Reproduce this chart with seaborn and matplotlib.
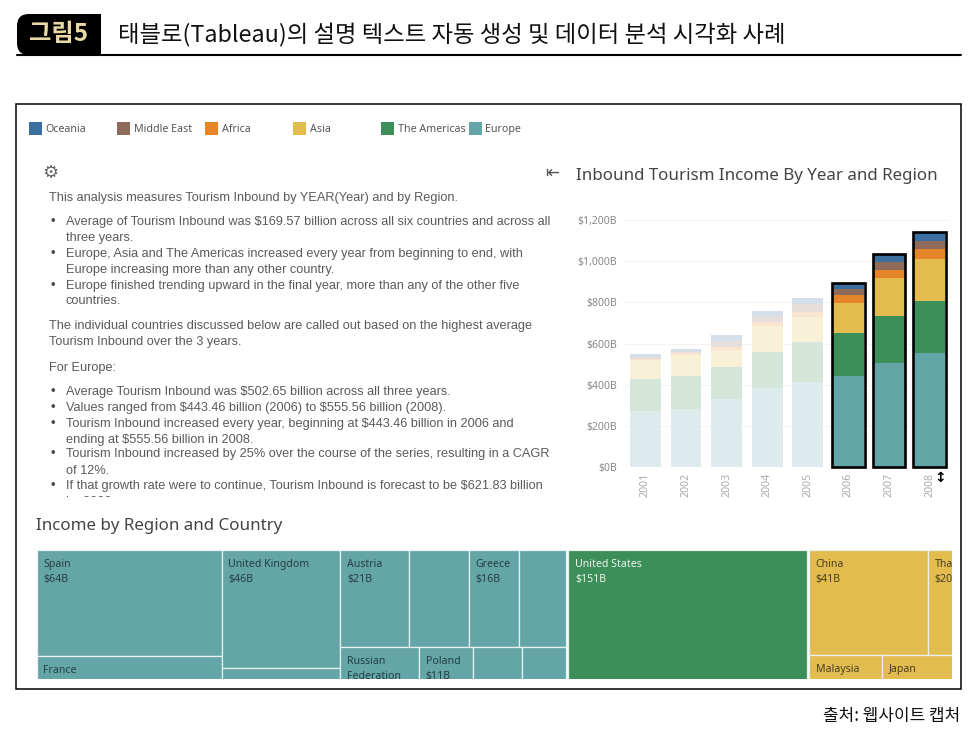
import numpy as np
import pandas as pd
import matplotlib.pyplot as plt
import matplotlib.colors as mcolors
from matplotlib.patches import Rectangle, FancyBboxPatch
import seaborn as sns

# ── data ──────────────────────────────────────────────────────────────────────

YEARS    = ["2001", "2002", "2003", "2004", "2005", "2006", "2007", "2008"]
SELECTED = ["2006", "2007", "2008"]

europe   = [270, 281, 330, 383, 411, 443, 505, 556]
americas = [157, 159, 154, 178, 194, 207, 231, 251]
asia     = [93, 105, 86, 122, 126, 149, 180, 203]
africa   = [7, 8, 15, 22, 24, 37, 42, 50]
mideast  = [8, 6, 25, 30, 35, 28, 40, 37]
oceania  = [13, 15, 29, 24, 29, 26, 33, 39]

Y_TICKS  = [0, 200, 400, 600, 800, 1000, 1200]
Y_LABELS = ["$0B", "$200B", "$400B", "$600B", "$800B", "$1,000B", "$1,200B"]

LEGEND = ["Oceania", "Middle East", "Africa", "Asia", "The Americas", "Europe"]
COLORS = {"Oceania": "#3b6f9f", "Middle East": "#8d6a5a", "Africa": "#e58528",
          "Asia": "#e3bc50", "The Americas": "#3d8f59", "Europe": "#64a5a8"}

# treemap: region -> columns -> rows -> (label, value billions, value shown)
TREE_EUROPE = [
    [[("Spain", 64, "$64B")], [("France", 53, "")]],
    [[("United Kingdom", 46, "$46B")], [("", 29, "")]],
    [[("Austria", 22, "$21B"), ("", 19, ""), ("Greece", 16, "$16B"), ("", 15, "")],
     [("Russian\nFederation", 16, ""), ("Poland", 11, "$11B"), ("", 10, ""), ("", 9, "")],
     [("", 25, "")]],
]
TREE_AMERICAS = [[[("United States", 151, "$151B")]]]
TREE_ASIA = [[[("China", 41, "$41B"), ("Thailand", 20, "$20B")],
              [("Malaysia", 21, ""), ("Japan", 30, "")]]]

TEXT_LINES = [
    (49, 197, "This analysis measures Tourism Inbound by YEAR(Year) and by Region."),
    (66, 220, "Average of Tourism Inbound was $169.57 billion across all six countries and across all"),
    (66, 237, "three years."),
    (66, 253, "Europe, Asia and The Americas increased every year from beginning to end, with"),
    (66, 269, "Europe increasing more than any other country."),
    (66, 285, "Europe finished trending upward in the final year, more than any of the other five"),
    (66, 300, "countries."),
    (49, 325, "The individual countries discussed below are called out based on the highest average"),
    (49, 341, "Tourism Inbound over the 3 years."),
    (49, 366, "For Europe:"),
    (66, 390, "Average Tourism Inbound was $502.65 billion across all three years."),
    (66, 406, "Values ranged from $443.46 billion (2006) to $555.56 billion (2008)."),
    (66, 422, "Tourism Inbound increased every year, beginning at $443.46 billion in 2006 and"),
    (66, 438, "ending at $555.56 billion in 2008."),
    (66, 453, "Tourism Inbound increased by 25% over the course of the series, resulting in a CAGR"),
    (66, 469, "of 12%."),
    (66, 485, "If that growth rate were to continue, Tourism Inbound is forecast to be $621.83 billion"),
    (66, 501, "by 2009."),
]
BULLET_Y = [220, 253, 285, 390, 406, 422, 453, 485]

# ── setup ─────────────────────────────────────────────────────────────────────

sns.set_theme(style="white")
plt.rcParams["font.family"] = ["Noto Sans", "Noto Sans CJK KR", "DejaVu Sans"]
plt.rcParams["text.parse_math"] = False

W, H = 974, 737
fig = plt.figure(figsize=(W / 100, H / 100), dpi=100, facecolor="white")


def pixel_axes(left, top, right, bottom):
    # axes whose data coordinates are the picture's pixels
    ax = fig.add_axes([left / W, 1 - bottom / H, (right - left) / W, (bottom - top) / H])
    ax.set_xlim(left, right)
    ax.set_ylim(bottom, top)
    ax.axis("off")
    return ax


def faded(color, keep=0.22):
    rgb = np.array(mcolors.to_rgb(color))
    return mcolors.to_hex(rgb * keep + (1 - keep))


# ── page furniture ────────────────────────────────────────────────────────────

page = pixel_axes(0, 0, W, H)
page.add_patch(FancyBboxPatch((17, 14), 60, 41, boxstyle="round,pad=0,rounding_size=12",
                              fc="black", ec="none"))
page.add_patch(Rectangle((50, 14), 51, 41, fc="black", ec="none"))
page.plot([17, 961], [54.5, 54.5], color="black", lw=1.5)
page.text(59, 34, "그림5", color="#e9d9a6", fontsize=17.5, fontweight="bold",
          family="Noto Sans CJK KR", ha="center", va="center")
page.text(118, 35, "태블로(Tableau)의 설명 텍스트 자동 생성 및 데이터 분석 시각화 사례",
          color="#111111", fontsize=16.8, fontweight="medium",
          family="Noto Sans CJK KR", ha="left", va="center")
page.add_patch(Rectangle((16, 104), 945, 585, fc="none", ec="black", lw=1.1))
page.text(960, 716, "출처: 웹사이트 캡처", color="#111111", fontsize=12.2,
          family="Noto Sans CJK KR", ha="right", va="center")

for i, name in enumerate(LEGEND):
    x = 29 + 88 * i
    page.add_patch(Rectangle((x, 122), 12.5, 12.5, fc=COLORS[name], ec="none"))
    page.text(x + 16.5, 129.5, name, color="#555555", fontsize=7.7, va="center")

page.text(50, 173, "\u2699", color="#666666", fontsize=13, family="DejaVu Sans",
          ha="center", va="center")
page.text(552, 173, "\u21e4", color="#555555", fontsize=12, family="DejaVu Sans",
          ha="center", va="center")
page.text(576, 176, "Inbound Tourism Income By Year and Region", color="#444444",
          fontsize=12.2, va="center")
page.text(36, 526, "Income by Region and Country", color="#444444", fontsize=12.2, va="center")

# ── text panel ────────────────────────────────────────────────────────────────

panel = pixel_axes(40, 186, 562, 497)
for x, y, line in TEXT_LINES:
    panel.text(x, y + 1.5, line, color="#5a5a5a", fontsize=9.15, family="Liberation Sans",
               va="center", clip_on=True)
for y in BULLET_Y:
    panel.text(53, y + 1.5, "\u2022", color="#444444", fontsize=9.15, family="Liberation Sans",
               ha="center", va="center")

# ── stacked bars, tallest cumulative drawn first ──────────────────────────────

income = pd.DataFrame({"Europe": europe, "The Americas": americas, "Asia": asia,
                       "Africa": africa, "Middle East": mideast, "Oceania": oceania},
                      index=pd.Index(YEARS, name="year"))
stacked = income.cumsum(axis=1)

ax = fig.add_axes([625 / W, 1 - 467 / H, 325 / W, 262 / H])
for region in stacked.columns[::-1]:
    palette = [COLORS[region] if y in SELECTED else faded(COLORS[region]) for y in YEARS]
    sns.barplot(data=stacked.reset_index(), x="year", y=region, hue="year", order=YEARS,
                hue_order=YEARS, palette=palette, saturation=1, width=0.76,
                legend=False, ax=ax, linewidth=0)

outline = stacked["Oceania"].loc[SELECTED].reset_index()
outline["Oceania"] += 4
n_before = len(ax.patches)
sns.barplot(data=outline, x="year", y="Oceania", order=YEARS, fill=False, color="black",
            width=0.8, linewidth=1.9, ax=ax)
for patch in ax.patches[n_before:]:
    patch.set_edgecolor("black")
    patch.set_clip_on(False)

ax.set_ylim(0, 1273)
ax.set_xlim(-0.5, 7.5)
ax.set_yticks(Y_TICKS, Y_LABELS)
ax.set_xlabel("")
ax.set_ylabel("")
ax.tick_params(axis="y", length=0, pad=6, labelsize=7.5, labelcolor="#888888")
ax.tick_params(axis="x", length=0, pad=4, labelsize=7.6, labelcolor="#aaaaaa", labelrotation=90)
ax.yaxis.grid(True, color="#f3f3f3", lw=0.8)
ax.set_axisbelow(True)
sns.despine(ax=ax, left=True, bottom=True)
ax.patch.set_alpha(0)
page.text(940, 478, "\u2195", color="black", fontsize=10, fontweight="bold",
          family="DejaVu Sans", ha="center", va="center")

# ── treemap, laid out from the values and cropped by the axes ─────────────────

tree = pixel_axes(37, 550, 952, 679)
TREE_HEIGHT = 193
PX_PER_BILLION = 305


def draw_region(columns, x, color, label_color):
    for column in columns:
        total = sum(v for row in column for _, v, _ in row)
        col_w = total * PX_PER_BILLION / TREE_HEIGHT
        y = 550
        for row in column:
            row_total = sum(v for _, v, _ in row)
            row_h = row_total / total * TREE_HEIGHT
            cx = x
            for label, value, shown in row:
                cell_w = value / row_total * col_w
                tree.add_patch(Rectangle((cx, y), cell_w, row_h, fc=color,
                                         ec="#e8f0f0", lw=0.9))
                tree.text(cx + 6.5, y + 9, label + ("\n" + shown if shown else ""),
                          color=label_color, fontsize=7.6, va="top", linespacing=1.45,
                          clip_on=True)
                cx += cell_w
            y += row_h
        x += col_w
    return x


x_end = draw_region(TREE_EUROPE, 37, COLORS["Europe"], "#263f42")
x_end = draw_region(TREE_AMERICAS, x_end + 2, COLORS["The Americas"], "#eef5ef")
draw_region(TREE_ASIA, x_end + 2, COLORS["Asia"], "#4a3f1e")

fig.savefig("out.png", dpi=100)
